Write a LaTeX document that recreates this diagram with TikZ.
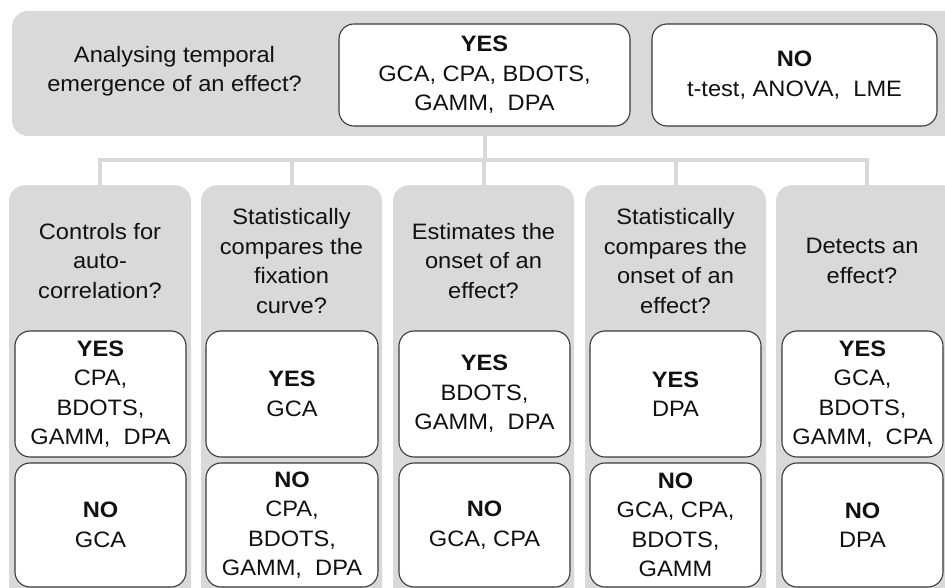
\documentclass[tikz,border=0pt]{standalone}
\usepackage{fontspec}
\setmainfont{Liberation Sans}[FakeStretch=1.06]
\definecolor{bandgray}{HTML}{D9D9D9}
\definecolor{ink}{HTML}{111111}
\definecolor{edge}{HTML}{3A3A3A}
\newcommand{\txtfont}{\fontsize{22.3}{29.5}\selectfont}
\begin{document}
\begin{tikzpicture}[x=1pt,y=-1pt,
  panel/.style={fill=bandgray, draw=none, rounded corners=16pt, inner sep=0pt},
  ans/.style={fill=white, draw=edge, line width=1.1pt, rounded corners=15pt, inner sep=0pt, align=center, text=ink, font=\txtfont},
  qtext/.style={align=center, text=ink, font=\txtfont, inner sep=0pt},
  conn/.style={draw=bandgray, line width=4pt, line cap=rect}]
\useasboundingbox (0,0) rectangle (945,588);
\clip (0,0) rectangle (945,588);
\fill[white] (0,0) rectangle (945,588);

% top band
\node[panel, minimum width=968pt, minimum height=125pt] (top) at (496,73.5) {};
\node[qtext] (tq) at (174.5,71) {Analysing temporal\\emergence of an effect?};
\node[ans, minimum width=291pt, minimum height=102pt] (yes) at (484.5,75) {\textbf{YES}\\GCA, CPA, BDOTS,\\GAMM,\ \ DPA};
\node[ans, minimum width=285pt, minimum height=102pt] (no) at (794.5,75) {\textbf{NO}\\t-test, ANOVA,\ \ LME};

% columns
\node[panel, minimum width=182pt, minimum height=440pt, anchor=north] (c1) at (100,185) {};
\node[panel, minimum width=181pt, minimum height=440pt, anchor=north] (c2) at (291.5,185) {};
\node[panel, minimum width=181pt, minimum height=440pt, anchor=north] (c3) at (483.5,185) {};
\node[panel, minimum width=181pt, minimum height=440pt, anchor=north] (c4) at (675.5,185) {};
\node[panel, minimum width=182pt, minimum height=440pt, anchor=north] (c5) at (867,185) {};

% connectors
\coordinate (hy) at (0,160);
\coordinate (hub) at (yes.south |- hy);
\draw[conn] (yes.south |- top.south) -- (hub);
\draw[conn] (c1.north |- hub) -- (c5.north |- hub);
\foreach \c in {c1,c2,c3,c4,c5} {\draw[conn] (\c.north |- hub) -- (\c.north);}

% questions
\node[qtext] (q1) at (100,261) {Controls for\\auto-\\correlation?};
\node[qtext] (q2) at (291.5,261) {Statistically\\compares the\\fixation\\curve?};
\node[qtext] (q3) at (483.5,261) {Estimates the\\onset of an\\effect?};
\node[qtext] (q4) at (675.5,261) {Statistically\\compares the\\onset of an\\effect?};
\node[qtext] (q5) at (862,261) {Detects an\\effect?};

% YES boxes
\node[ans, minimum width=171pt, minimum height=126pt] (y1) at (100.5,394) {\textbf{YES}\\CPA,\\BDOTS,\\GAMM,\ \ DPA};
\node[ans, minimum width=172pt, minimum height=126pt] (y2) at (292,394) {\textbf{YES}\\GCA};
\node[ans, minimum width=171pt, minimum height=126pt] (y3) at (484.5,394) {\textbf{YES}\\BDOTS,\\GAMM,\ \ DPA};
\node[ans, minimum width=171pt, minimum height=126pt] (y4) at (675.5,394) {\textbf{YES}\\DPA};
\node[ans, minimum width=161pt, minimum height=126pt] (y5) at (862.5,394) {\textbf{YES}\\GCA,\\BDOTS,\\GAMM,\ \ CPA};

% NO boxes
\node[ans, minimum width=171pt, minimum height=124pt] (n1) at (100.5,525) {\textbf{NO}\\GCA};
\node[ans, minimum width=172pt, minimum height=124pt] (n2) at (292,525) {\textbf{NO}\\CPA,\\BDOTS,\\GAMM,\ \ DPA};
\node[ans, minimum width=171pt, minimum height=124pt] (n3) at (484.5,525) {\textbf{NO}\\GCA, CPA};
\node[ans, minimum width=171pt, minimum height=124pt] (n4) at (675.5,525) {\textbf{NO}\\GCA, CPA,\\BDOTS,\\GAMM};
\node[ans, minimum width=161pt, minimum height=124pt] (n5) at (862.5,525) {\textbf{NO}\\DPA};
\end{tikzpicture}
\end{document}
